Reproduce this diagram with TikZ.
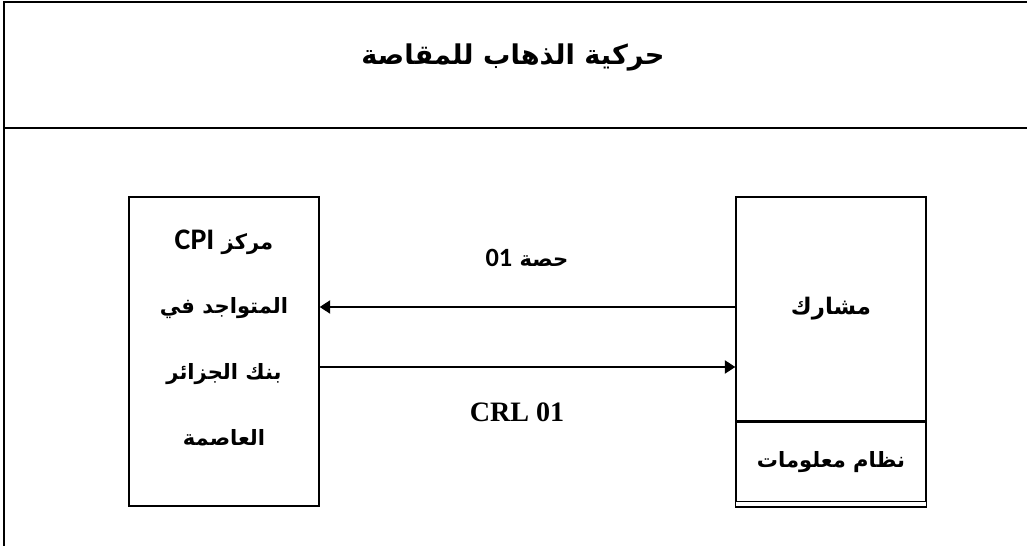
\documentclass[tikz,border=0pt]{standalone}
\usepackage{fontspec}
\setmainfont{Liberation Serif}
\newfontfamily\arabicfont[Script=Arabic]{DejaVu Sans}
\newfontfamily\calibrifont{Carlito}
\TeXXeTstate=1
\usetikzlibrary{arrows.meta,positioning}

\tikzset{
  box/.style={draw,line width=0.8pt,minimum width=3.8cm,inner sep=0pt},
  arlbl/.style={font=\arabicfont\bfseries\fontsize{12}{14}\selectfont},
  latin/.style={font=\calibrifont\bfseries\fontsize{17}{20}\selectfont},
  flow/.style={line width=1.1pt,-{Triangle[length=6pt,width=7.5pt]}}
}

\begin{document}
\begin{tikzpicture}[x=0.02cm,y=-0.02cm]
  \useasboundingbox (0,0) rectangle (1027,546);
  % frame and title
  \draw[line width=1.2pt] (1027,2) -| (4,546);
  \draw[line width=1.2pt] (4,128) -- (1027,128);
  \node[font=\arabicfont\bfseries\fontsize{15.5}{18}\selectfont] (title) at (513,57) {\beginR حركية الذهاب للمقاصة\endR};

  % boxes
  \node[box,minimum height=6.18cm] (cpi) at (224,351.5) {};
  \node[box,minimum height=4.48cm] (participant) at (831,309) {};
  \node[box,minimum height=1.58cm,below=0pt of participant] (infosys) {};
  \draw[line width=0.8pt] (infosys.south west) -- ++(0,5) -| (infosys.south east);

  % texts in the boxes
  \node[arlbl] (cpiline1) at (224,242) {\beginR مركز \beginL{\calibrifont\fontsize{17}{20}\selectfont CPI}\endL\endR};
  \node[arlbl] (cpiline2) at (224,308) {\beginR المتواجد في\endR};
  \node[arlbl] (cpiline3) at (224,374) {\beginR بنك الجزائر\endR};
  \node[arlbl] (cpiline4) at (224,438) {\beginR العاصمة\endR};
  \node[arlbl,font=\arabicfont\bfseries\fontsize{13}{15}\selectfont] (partlbl) at (participant.center) {\beginR مشارك\endR};
  \node[arlbl] (infolbl) at (infosys.center) {\beginR نظام معلومات\endR};

  % flows
  \coordinate (upperrow) at (0,307);
  \coordinate (lowerrow) at (0,367);
  \draw[flow] (participant.west |- upperrow) -- (cpi.east |- upperrow);
  \draw[flow] (cpi.east |- lowerrow) -- (participant.west |- lowerrow);
  \node[arlbl] (sharelbl) at (527,258) {\beginR حصة \beginL{\calibrifont\fontsize{15}{18}\selectfont 01}\endL\endR};
  \node[font=\bfseries\fontsize{16}{19}\selectfont] (crllbl) at (517,412) {CRL 01};
\end{tikzpicture}
\end{document}
